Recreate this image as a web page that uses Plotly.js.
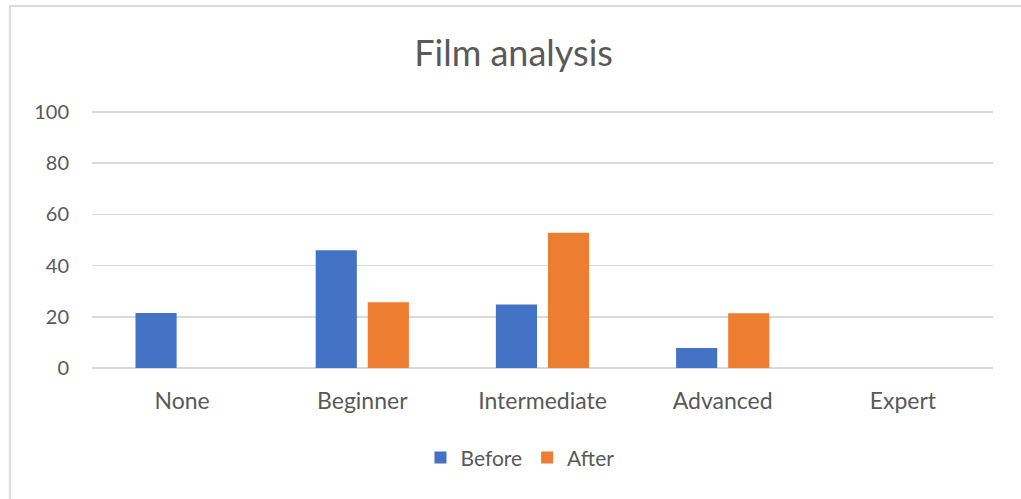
<!DOCTYPE html>
<html>
<head>
<meta charset="utf-8">
<script src="https://cdn.plot.ly/plotly-3.0.1.min.js"></script>
<style>
  html, body { margin: 0; padding: 0; background: #ffffff; }
  #frame { position: absolute; left: 0; top: 0; width: 1021px; height: 499px; overflow: hidden; }
  #border { position: absolute; left: 9px; top: 5px; width: 1030px; height: 520px;
            border-top: 2px solid #dcdcdc; border-left: 2px solid #dcdcdc; pointer-events: none; }
  #chart { position: absolute; left: 0; top: 0; width: 1021px; height: 499px; }
</style>
</head>
<body>
<div id="frame">
  <div id="chart"></div>
  <div id="border"></div>
</div>
<script>
const categories = ["None", "Beginner", "Intermediate", "Advanced", "Expert"];
const beforeValues = [21.5, 46, 24.8, 7.8, 0];
const afterValues = [0, 25.7, 52.8, 21.4, 0];
const yTicks = [0, 20, 40, 60, 80, 100];

const fontFamily = "Lato, 'Open Sans', sans-serif";
const textColor = "#595959";

const traces = [
  { type: "bar", name: "Before", x: categories, y: beforeValues,
    marker: { color: "#4472C4" }, hoverinfo: "x+y+name" },
  { type: "bar", name: "After", x: categories, y: afterValues,
    marker: { color: "#ED7D31" }, hoverinfo: "x+y+name" }
];

const layout = {
  width: 1021, height: 499,
  margin: { l: 92, r: 28, t: 111, b: 131 },
  paper_bgcolor: "rgba(0,0,0,0)",
  plot_bgcolor: "rgba(0,0,0,0)",
  font: { family: fontFamily, color: textColor, size: 20 },
  title: { text: "Film analysis", x: 0.503, xanchor: "center", y: 1 - 53 / 499, yanchor: "middle",
           yref: "container", font: { family: fontFamily, size: 36, color: textColor } },
  barmode: "group",
  bargap: 0.422,
  bargroupgap: 0.21,
  showlegend: true,
  legend: { orientation: "h", x: 0.475, xanchor: "center", y: -0.35, yanchor: "middle",
            font: { family: fontFamily, size: 21, color: textColor }, itemclick: false },
  xaxis: { type: "category", showgrid: false, zeroline: false, showline: false, ticks: "",
           tickfont: { family: fontFamily, size: 23, color: textColor }, ticklabelstandoff: 17 },
  yaxis: { range: [0, 100.4], tickvals: yTicks, ticktext: yTicks.map(String), showgrid: true,
           gridcolor: "#d9d9d9", gridwidth: 1.5, zeroline: true, zerolinecolor: "#d9d9d9", zerolinewidth: 1.5,
           showline: false, ticks: "", tickfont: { family: fontFamily, size: 20, color: textColor },
           ticklabelstandoff: 22 }
};

Plotly.newPlot("chart", traces, layout, { displayModeBar: false, staticPlot: true });
</script>
</body>
</html>
